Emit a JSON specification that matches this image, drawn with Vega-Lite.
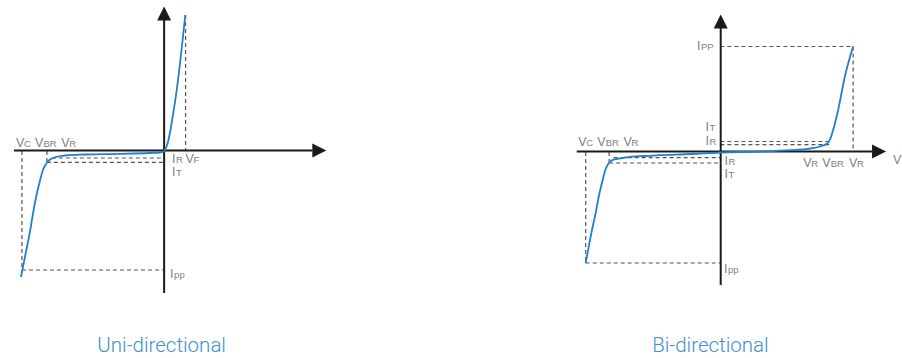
{
  "$schema": "https://vega.github.io/schema/vega-lite/v6.json",
  "width": 902,
  "height": 358,
  "autosize": {"type": "fit", "contains": "padding"},
  "padding": 0,
  "background": "white",
  "config": {"view": {"stroke": null}},
  "datasets": {
    "curves": [
      {"panel": "uni", "i": 1, "x": 21, "y": 277}, {"panel": "uni", "i": 2, "x": 24, "y": 262}, {"panel": "uni", "i": 3, "x": 27, "y": 247},
      {"panel": "uni", "i": 4, "x": 30, "y": 232}, {"panel": "uni", "i": 5, "x": 33, "y": 214}, {"panel": "uni", "i": 6, "x": 36, "y": 198},
      {"panel": "uni", "i": 7, "x": 40, "y": 181}, {"panel": "uni", "i": 8, "x": 43, "y": 170}, {"panel": "uni", "i": 9, "x": 45.5, "y": 165},
      {"panel": "uni", "i": 10, "x": 48, "y": 161.5}, {"panel": "uni", "i": 11, "x": 51, "y": 159}, {"panel": "uni", "i": 12, "x": 56, "y": 157},
      {"panel": "uni", "i": 13, "x": 65, "y": 155.5}, {"panel": "uni", "i": 14, "x": 85, "y": 154.5}, {"panel": "uni", "i": 15, "x": 120, "y": 153.8},
      {"panel": "uni", "i": 16, "x": 150, "y": 153}, {"panel": "uni", "i": 17, "x": 160, "y": 152.5}, {"panel": "uni", "i": 18, "x": 164.5, "y": 151.2},
      {"panel": "uni", "i": 19, "x": 166.5, "y": 147.5}, {"panel": "uni", "i": 20, "x": 168.5, "y": 141.5}, {"panel": "uni", "i": 21, "x": 170.3, "y": 133},
      {"panel": "uni", "i": 22, "x": 173, "y": 117}, {"panel": "uni", "i": 23, "x": 176.7, "y": 93}, {"panel": "uni", "i": 24, "x": 180, "y": 67},
      {"panel": "uni", "i": 25, "x": 183, "y": 40}, {"panel": "uni", "i": 26, "x": 185.7, "y": 15},
      {"panel": "bi", "i": 1, "x": 587, "y": 263}, {"panel": "bi", "i": 2, "x": 590, "y": 247}, {"panel": "bi", "i": 3, "x": 593.3, "y": 230},
      {"panel": "bi", "i": 4, "x": 597, "y": 213}, {"panel": "bi", "i": 5, "x": 600, "y": 197}, {"panel": "bi", "i": 6, "x": 604, "y": 180},
      {"panel": "bi", "i": 7, "x": 607, "y": 169}, {"panel": "bi", "i": 8, "x": 610, "y": 163.3}, {"panel": "bi", "i": 9, "x": 613, "y": 160.5},
      {"panel": "bi", "i": 10, "x": 617, "y": 159.2}, {"panel": "bi", "i": 11, "x": 627, "y": 157.5}, {"panel": "bi", "i": 12, "x": 645, "y": 156},
      {"panel": "bi", "i": 13, "x": 660, "y": 155.2}, {"panel": "bi", "i": 14, "x": 693, "y": 154}, {"panel": "bi", "i": 15, "x": 722, "y": 152.5},
      {"panel": "bi", "i": 16, "x": 760, "y": 151.6}, {"panel": "bi", "i": 17, "x": 793, "y": 150.2}, {"panel": "bi", "i": 18, "x": 810, "y": 148.8},
      {"panel": "bi", "i": 19, "x": 822, "y": 146.5}, {"panel": "bi", "i": 20, "x": 829, "y": 143.5}, {"panel": "bi", "i": 21, "x": 832.5, "y": 138},
      {"panel": "bi", "i": 22, "x": 835, "y": 130}, {"panel": "bi", "i": 23, "x": 840, "y": 110}, {"panel": "bi", "i": 24, "x": 846.7, "y": 76.7},
      {"panel": "bi", "i": 25, "x": 855, "y": 46.5}
    ],
    "axes": [
      {"x": 164.5, "x2": 164.5, "y": 19, "y2": 293},
      {"x": 14, "x2": 313, "y": 150.5, "y2": 150.5},
      {"x": 722.3, "x2": 722.3, "y": 27, "y2": 285},
      {"x": 578, "x2": 874, "y": 151.5, "y2": 151.5}
    ],
    "arrowsUp": [
      {"x": 164.5, "y": 13.5},
      {"x": 722.3, "y": 21.5}
    ],
    "arrowsRight": [
      {"x": 320, "y": 150.5},
      {"x": 881, "y": 151.5}
    ],
    "dashes": [
      {"x": 22, "x2": 22, "y": 151, "y2": 270},
      {"x": 22, "x2": 164, "y": 270, "y2": 270},
      {"x": 47, "x2": 47, "y": 151, "y2": 162.3},
      {"x": 52, "x2": 164, "y": 158, "y2": 158},
      {"x": 47, "x2": 164, "y": 162.3, "y2": 162.3},
      {"x": 186, "x2": 186, "y": 15, "y2": 150},
      {"x": 587, "x2": 587, "y": 152, "y2": 263},
      {"x": 587, "x2": 722, "y": 263, "y2": 263},
      {"x": 610.5, "x2": 610.5, "y": 152, "y2": 163},
      {"x": 615, "x2": 722, "y": 157.7, "y2": 157.7},
      {"x": 610.5, "x2": 722, "y": 163, "y2": 163},
      {"x": 722, "x2": 855, "y": 46.5, "y2": 46.5},
      {"x": 855, "x2": 855, "y": 46.5, "y2": 151},
      {"x": 722, "x2": 831, "y": 141.5, "y2": 141.5},
      {"x": 722, "x2": 831, "y": 144.7, "y2": 144.7}
    ],
    "labels": [
      {"kind": "main", "text": "V", "x": 16, "y": 146.5}, {"kind": "sub", "text": "C", "x": 24, "y": 146.5},
      {"kind": "main", "text": "V", "x": 35, "y": 146.5}, {"kind": "sub", "text": "BR", "x": 43.5, "y": 146.5},
      {"kind": "main", "text": "V", "x": 61.5, "y": 146.5}, {"kind": "sub", "text": "R", "x": 69.5, "y": 146.5},
      {"kind": "main", "text": "I", "x": 172.5, "y": 162.5}, {"kind": "sub", "text": "R", "x": 176.5, "y": 162.5},
      {"kind": "main", "text": "V", "x": 186, "y": 162.5}, {"kind": "sub", "text": "F", "x": 194, "y": 162.5},
      {"kind": "main", "text": "I", "x": 172.5, "y": 175.5}, {"kind": "sub", "text": "T", "x": 176.5, "y": 175.5},
      {"kind": "main", "text": "I", "x": 170.5, "y": 278}, {"kind": "sub", "text": "pp", "x": 174.5, "y": 278},
      {"kind": "main", "text": "I", "x": 698.5, "y": 50}, {"kind": "sub", "text": "PP", "x": 702.5, "y": 50},
      {"kind": "main", "text": "I", "x": 707, "y": 131}, {"kind": "sub", "text": "T", "x": 711, "y": 131},
      {"kind": "main", "text": "I", "x": 707, "y": 145}, {"kind": "sub", "text": "R", "x": 711, "y": 145},
      {"kind": "main", "text": "V", "x": 579.5, "y": 145.5}, {"kind": "sub", "text": "C", "x": 587.5, "y": 145.5},
      {"kind": "main", "text": "V", "x": 598.5, "y": 145.5}, {"kind": "sub", "text": "BR", "x": 607, "y": 145.5},
      {"kind": "main", "text": "V", "x": 625, "y": 145.5}, {"kind": "sub", "text": "R", "x": 633, "y": 145.5},
      {"kind": "main", "text": "I", "x": 726, "y": 164.5}, {"kind": "sub", "text": "R", "x": 730, "y": 164.5},
      {"kind": "main", "text": "I", "x": 726, "y": 177.5}, {"kind": "sub", "text": "T", "x": 730, "y": 177.5},
      {"kind": "main", "text": "V", "x": 805, "y": 167}, {"kind": "sub", "text": "R", "x": 813, "y": 167},
      {"kind": "main", "text": "V", "x": 824, "y": 167}, {"kind": "sub", "text": "BR", "x": 832.5, "y": 167},
      {"kind": "main", "text": "V", "x": 851, "y": 167}, {"kind": "sub", "text": "R", "x": 859, "y": 167},
      {"kind": "main", "text": "V", "x": 895, "y": 164},
      {"kind": "main", "text": "I", "x": 725.5, "y": 272.5}, {"kind": "sub", "text": "pp", "x": 729.5, "y": 272.5}
    ],
    "titles": [
      {"text": "Uni-directional", "x": 162, "y": 351.5},
      {"text": "Bi-directional", "x": 712, "y": 351.5}
    ]
  },
  "encoding": {
    "x": {"field": "x", "type": "quantitative", "scale": {"domain": [0, 902], "nice": false, "zero": false}, "axis": null},
    "y": {"field": "y", "type": "quantitative", "scale": {"domain": [0, 358], "reverse": true, "nice": false, "zero": false}, "axis": null}
  },
  "layer": [
    {
      "data": {"name": "dashes"},
      "mark": {"type": "rule", "color": "#555555", "strokeWidth": 1.2, "strokeDash": [4, 3]},
      "encoding": {"x2": {"field": "x2"}, "y2": {"field": "y2"}}
    },
    {
      "data": {"name": "axes"},
      "mark": {"type": "rule", "color": "#1a1a1a", "strokeWidth": 2},
      "encoding": {"x2": {"field": "x2"}, "y2": {"field": "y2"}}
    },
    {
      "data": {"name": "arrowsUp"},
      "mark": {"type": "point", "shape": "M0,-1L1,1L-1,1Z", "size": 196, "filled": true, "color": "#1a1a1a", "opacity": 1, "strokeWidth": 0}
    },
    {
      "data": {"name": "arrowsRight"},
      "mark": {"type": "point", "shape": "M1,0L-1,-1L-1,1Z", "size": 196, "filled": true, "color": "#1a1a1a", "opacity": 1, "strokeWidth": 0}
    },
    {
      "data": {"name": "curves"},
      "mark": {"type": "line", "color": "#1f80cf", "strokeWidth": 1.8, "interpolate": "monotone"},
      "encoding": {"detail": {"field": "panel"}, "order": {"field": "i", "type": "quantitative"}}
    },
    {
      "data": {"name": "labels"},
      "transform": [{"filter": "datum.kind == 'main'"}],
      "mark": {"type": "text", "align": "left", "baseline": "alphabetic", "font": "Liberation Sans", "fontSize": 12.5, "color": "#808080"},
      "encoding": {"text": {"field": "text"}}
    },
    {
      "data": {"name": "labels"},
      "transform": [{"filter": "datum.kind == 'sub'"}],
      "mark": {"type": "text", "align": "left", "baseline": "alphabetic", "font": "Liberation Sans", "fontSize": 9.5, "color": "#808080"},
      "encoding": {"text": {"field": "text"}}
    },
    {
      "data": {"name": "titles"},
      "mark": {"type": "text", "align": "center", "baseline": "alphabetic", "font": "Roboto", "fontWeight": 300, "fontSize": 20.5, "color": "#3d8fd1"},
      "encoding": {"text": {"field": "text"}}
    }
  ]
}
